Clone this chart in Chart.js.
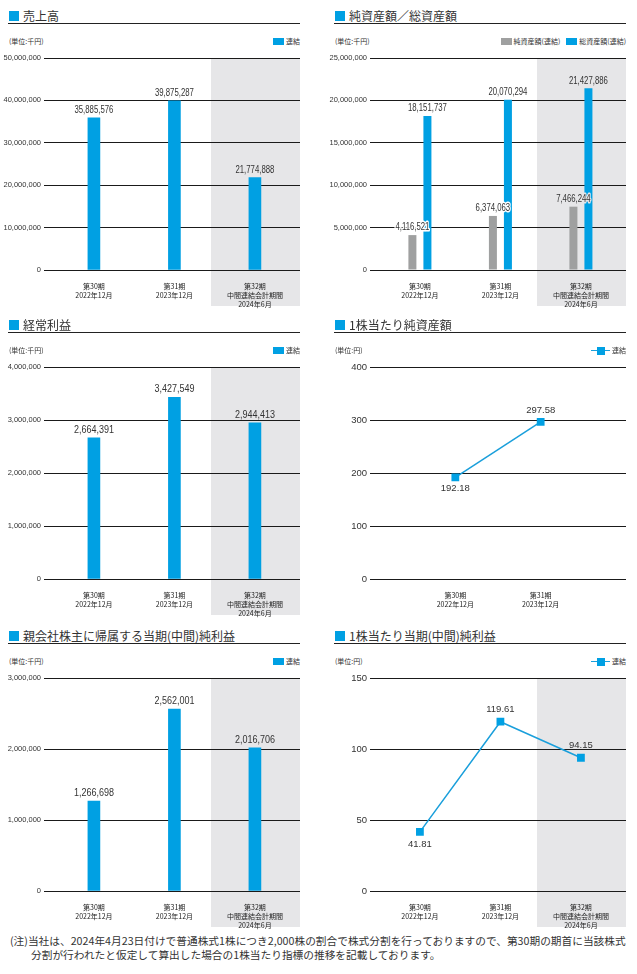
<!DOCTYPE html>
<html>
<head>
<meta charset="utf-8">
<script src="https://cdn.jsdelivr.net/npm/chart.js@4.4.1/dist/chart.umd.min.js"></script>
<style>
  body { margin: 0; width: 637px; height: 974px; background: #fff; position: relative; overflow: hidden;
         font-family: 'Noto Sans CJK JP', sans-serif; color: #333; }
  .panel { position: absolute; width: 310px; height: 310px; }
  .ttl { position: absolute; left: 8px; top: 0; width: 292px; height: 24px; box-sizing: border-box;
         border-bottom: 1px solid #222; padding: 9px 0 0 15px; font-size: 12px; line-height: 14px;
         white-space: nowrap; color: #333; }
  .ttl i { position: absolute; left: 1px; top: 11px; width: 10px; height: 10px; background: #00a0e3; }
  .unit { position: absolute; left: 9px; top: 37px; font-size: 7px; line-height: 9px; color: #333; }
  .lgd { position: absolute; right: 10px; top: 37px; height: 9px; display: flex; align-items: center;
         font-size: 7px; line-height: 9px; color: #333; white-space: nowrap; }
  .box { width: 11px; height: 7px; background: #00a0e3; margin-right: 2px; }
  .box.grey { background: #9fa0a0; }
  .gap { width: 6px; }
  .ln { width: 19px; height: 8px; position: relative; margin-right: 2px; }
  .ln::before { content: ''; position: absolute; left: 0; right: 0; top: 3px; height: 1.5px; background: #1a9fdb; }
  .ln::after { content: ''; position: absolute; left: 5.5px; top: 0; width: 8px; height: 8px; background: #00a0e3; }
  canvas { position: absolute; left: 0; top: 50px; }
  .note { position: absolute; left: 10px; top: 934px; font-size: 10.7px; line-height: 14px; color: #333;
          white-space: nowrap; }
  .note span { display: block; }
  .note span + span { padding-left: 21px; }
</style>
</head>
<body>

<div class="panel" style="left:0;top:0">
  <div class="ttl"><i></i>売上高</div>
  <div class="unit">(単位:千円)</div>
  <div class="lgd"><span class="box"></span>連結</div>
  <canvas id="sales" width="310" height="260"></canvas>
</div>

<div class="panel" style="left:326px;top:0">
  <div class="ttl"><i></i>純資産額／総資産額</div>
  <div class="unit">(単位:千円)</div>
  <div class="lgd"><span class="box grey"></span>純資産額(連結)<span class="gap"></span><span class="box"></span>総資産額(連結)</div>
  <canvas id="assets" width="310" height="260"></canvas>
</div>

<div class="panel" style="left:0;top:309px">
  <div class="ttl"><i></i>経常利益</div>
  <div class="unit">(単位:千円)</div>
  <div class="lgd"><span class="box"></span>連結</div>
  <canvas id="ordinary" width="310" height="260"></canvas>
</div>

<div class="panel" style="left:326px;top:309px">
  <div class="ttl"><i></i>1株当たり純資産額</div>
  <div class="unit">(単位:円)</div>
  <div class="lgd"><span class="ln"></span>連結</div>
  <canvas id="bps" width="310" height="260"></canvas>
</div>

<div class="panel" style="left:0;top:620px">
  <div class="ttl"><i></i>親会社株主に帰属する当期(中間)純利益</div>
  <div class="unit">(単位:千円)</div>
  <div class="lgd"><span class="box"></span>連結</div>
  <canvas id="netIncome" width="310" height="261"></canvas>
</div>

<div class="panel" style="left:326px;top:620px">
  <div class="ttl"><i></i>1株当たり当期(中間)純利益</div>
  <div class="unit">(単位:円)</div>
  <div class="lgd"><span class="ln"></span>連結</div>
  <canvas id="eps" width="310" height="261"></canvas>
</div>

<div class="note">
  <span>(注)当社は、2024年4月23日付けで普通株式1株につき2,000株の割合で株式分割を行っておりますので、第30期の期首に当該株式</span>
  <span>分割が行われたと仮定して算出した場合の1株当たり指標の推移を記載しております。</span>
</div>

<script>
// 期
const periods = [['第30期', '2022年12月'], ['第31期', '2023年12月'], ['第32期', '中間連結会計期間', '2024年6月']];
const bpsPeriods = periods.slice(0, 2);

// 売上高 (千円)
const sales = [35885576, 39875287, 21774888];
const salesTicks = [0, 10000000, 20000000, 30000000, 40000000, 50000000];

// 純資産額／総資産額 (千円)
const netAssets = [4116521, 6374063, 7466244];
const totalAssets = [18151737, 20070294, 21427886];
const assetTicks = [0, 5000000, 10000000, 15000000, 20000000, 25000000];

// 経常利益 (千円)
const ordinaryProfit = [2664391, 3427549, 2944413];
const ordinaryTicks = [0, 1000000, 2000000, 3000000, 4000000];

// 1株当たり純資産額 (円)
const bps = [192.18, 297.58];
const bpsTicks = [0, 100, 200, 300, 400];

// 親会社株主に帰属する当期(中間)純利益 (千円)
const netIncome = [1266698, 2562001, 2016706];
const netIncomeTicks = [0, 1000000, 2000000, 3000000];

// 1株当たり当期(中間)純利益 (円)
const eps = [41.81, 119.61, 94.15];
const epsTicks = [0, 50, 100, 150];

const BLUE = '#00a0e3';
const LINE = '#1a9fdb';
const GREY = '#9fa0a0';
const BAND = '#e6e6e8';
const CJK = "'Noto Sans CJK JP', sans-serif";
const SANS = "'Liberation Sans', Arial, sans-serif";

const toXY = arr => arr.map((v, i) => ({ x: i, y: v }));

// grey background behind the interim period
const bandPlugin = {
  id: 'band',
  beforeDraw(chart, args, opts) {
    if (opts.from == null) return;
    const { ctx, chartArea: a } = chart;
    const left = Math.round(chart.scales.x.getPixelForValue(opts.from));
    ctx.save();
    ctx.fillStyle = BAND;
    ctx.fillRect(left, a.top, a.right - left, a.bottom - a.top + opts.drop);
    ctx.restore();
  }
};

// value labels above / below the marks
const valueLabels = {
  id: 'valueLabels',
  afterDatasetsDraw(chart, args, opts) {
    const ctx = chart.ctx;
    const bandLeft = opts.bandFrom == null ? Infinity : chart.scales.x.getPixelForValue(opts.bandFrom);
    ctx.save();
    ctx.font = opts.font;
    ctx.textAlign = 'center';
    ctx.textBaseline = 'middle';
    ctx.lineJoin = 'round';
    chart.data.datasets.forEach((ds, di) => {
      chart.getDatasetMeta(di).data.forEach((el, i) => {
        const v = ds.data[i].y;
        const text = opts.decimals ? v.toFixed(opts.decimals) : v.toLocaleString('en-US');
        const y = opts.below[i] ? el.y + opts.gapBelow : el.y - opts.gap;
        ctx.save();
        ctx.translate(el.x, y);
        ctx.scale(opts.squeeze, 1);
        if (opts.halo) {
          ctx.strokeStyle = el.x >= bandLeft ? BAND : '#fff';
          ctx.lineWidth = 3;
          ctx.strokeText(text, 0, 0);
        }
        ctx.fillStyle = '#333';
        ctx.fillText(text, 0, 0);
        ctx.restore();
      });
    });
    ctx.restore();
  }
};

Chart.register(bandPlugin, valueLabels);

function build(id, cfg) {
  const band = cfg.band ? 1.46 : null;
  return new Chart(document.getElementById(id), {
    type: cfg.type,
    data: { datasets: cfg.datasets },
    options: {
      responsive: false,
      animation: false,
      devicePixelRatio: 1,
      layout: { padding: { top: 8, right: 10, left: 0, bottom: 0 } },
      plugins: {
        legend: { display: false },
        tooltip: { enabled: false },
        band: { from: band, drop: 36 },
        valueLabels: {
          font: cfg.labelFont, decimals: cfg.decimals || 0, below: cfg.below || [],
          gap: cfg.gap, gapBelow: cfg.gapBelow || 0, halo: !!cfg.halo, bandFrom: band,
          squeeze: cfg.squeeze || 1
        }
      },
      scales: {
        x: {
          type: 'linear',
          offset: false,
          min: cfg.xMin, max: cfg.xMax,
          afterFit: s => { s.height = 40; },
          afterBuildTicks: s => { s.ticks = cfg.cats.map((c, i) => ({ value: i })); },
          grid: { display: false, offset: false },
          border: { display: false },
          ticks: {
            autoSkip: false, maxRotation: 0, padding: 3.5, color: '#222',
            font: { family: CJK, size: 7, lineHeight: 1.3 },
            callback: v => cfg.cats[v]
          }
        },
        y: {
          min: cfg.ticks[0], max: cfg.ticks[cfg.ticks.length - 1],
          afterFit: s => { s.width = 44; },
          afterBuildTicks: s => { s.ticks = cfg.ticks.map(v => ({ value: v })); },
          grid: { color: '#1a1a1a', lineWidth: 1, drawTicks: false },
          border: { display: false },
          ticks: {
            padding: 3, color: '#333', font: cfg.tickFont,
            callback: v => v.toLocaleString('en-US')
          }
        }
      }
    }
  });
}

const barTick = { family: SANS, size: 7.5 };
const lineTick = { family: SANS, size: 9.5 };

build('sales', {
  type: 'bar', cats: periods, ticks: salesTicks, band: true, xMin: -0.62, xMax: 2.56,
  tickFont: barTick, labelFont: "10.5px " + SANS, squeeze: 0.74, gap: 7.5,
  datasets: [{ data: toXY(sales), backgroundColor: BLUE, barThickness: 12 }]
});

build('assets', {
  type: 'bar', cats: periods, ticks: assetTicks, band: true, xMin: -0.62, xMax: 2.56,
  tickFont: barTick, labelFont: "10.5px " + SANS, squeeze: 0.74, gap: 7.5, halo: true,
  datasets: [
    { data: toXY(netAssets), backgroundColor: GREY, categoryPercentage: 0.373, barPercentage: 0.533 },
    { data: toXY(totalAssets), backgroundColor: BLUE, categoryPercentage: 0.373, barPercentage: 0.533 }
  ]
});

build('ordinary', {
  type: 'bar', cats: periods, ticks: ordinaryTicks, band: true, xMin: -0.62, xMax: 2.56,
  tickFont: barTick, labelFont: "10px " + SANS, squeeze: 0.9, gap: 8,
  datasets: [{ data: toXY(ordinaryProfit), backgroundColor: BLUE, barThickness: 12 }]
});

build('netIncome', {
  type: 'bar', cats: periods, ticks: netIncomeTicks, band: true, xMin: -0.62, xMax: 2.56,
  tickFont: barTick, labelFont: "10px " + SANS, squeeze: 0.9, gap: 8,
  datasets: [{ data: toXY(netIncome), backgroundColor: BLUE, barThickness: 12 }]
});

const lineStyle = {
  borderColor: LINE, borderWidth: 1.5, tension: 0,
  pointStyle: 'rect', pointRadius: 5.5, pointBackgroundColor: BLUE, pointBorderWidth: 0
};

build('bps', {
  type: 'line', cats: bpsPeriods, ticks: bpsTicks, band: false, xMin: -1, xMax: 2,
  tickFont: lineTick, labelFont: "9.5px " + SANS, decimals: 2, gap: 11, gapBelow: 11,
  below: [true, false],
  datasets: [Object.assign({ data: toXY(bps) }, lineStyle)]
});

build('eps', {
  type: 'line', cats: periods, ticks: epsTicks, band: true, xMin: -0.62, xMax: 2.56,
  tickFont: lineTick, labelFont: "9.5px " + SANS, decimals: 2, gap: 12, gapBelow: 13,
  below: [true, false, false],
  datasets: [Object.assign({ data: toXY(eps) }, lineStyle)]
});
</script>
</body>
</html>
